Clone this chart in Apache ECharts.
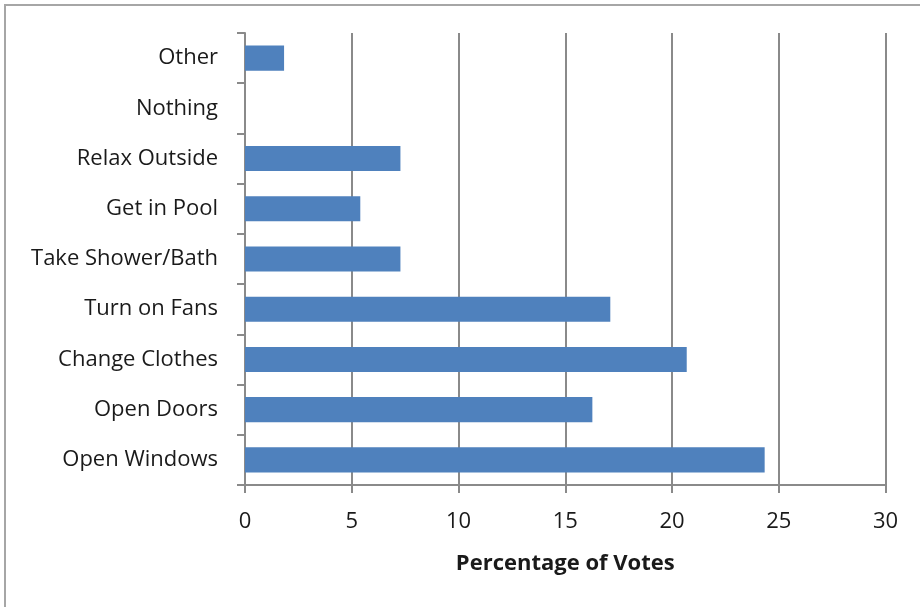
<!DOCTYPE html>
<html>
<head>
<meta charset="utf-8">
<script src="https://cdn.jsdelivr.net/npm/echarts@6/dist/echarts.min.js"></script>
<style>
  html, body { margin: 0; padding: 0; background: #fff; }
  #chart { width: 920px; height: 607px; }
</style>
</head>
<body>
<div id="chart"></div>
<script>
// Responses, listed bottom to top as the category axis draws them
const categories = ['Open Windows', 'Open Doors', 'Change Clothes', 'Turn on Fans',
  'Take Shower/Bath', 'Get in Pool', 'Relax Outside', 'Nothing', 'Other'];
// Share of votes for each response (%)
const votes = [24.34, 16.27, 20.69, 17.11, 7.28, 5.40, 7.28, 0, 1.83];
const xTicks = { min: 0, max: 30, interval: 5 };
const xTitle = 'Percentage of Votes';

const FONT = 'Open Sans';
const TEXT = '#1a1a1a';
const GRIDC = '#8a8a8a';

const chart = echarts.init(document.getElementById('chart'), null, { renderer: 'canvas' });
chart.setOption({
  animation: false,
  backgroundColor: '#ffffff',
  grid: { left: 245, right: 34.5, top: 33, bottom: 122, containLabel: false },
  graphic: [{
    type: 'rect',
    shape: { x: 5, y: 5, width: 930, height: 620 },
    style: { fill: 'none', stroke: '#a6a6a6', lineWidth: 2 },
    silent: true
  }],
  xAxis: {
    type: 'value',
    min: xTicks.min, max: xTicks.max, interval: xTicks.interval,
    name: xTitle,
    nameLocation: 'middle',
    nameGap: 68,
    nameTextStyle: { fontFamily: FONT, fontSize: 22, fontWeight: 'bold', color: TEXT },
    axisLine: { show: true, lineStyle: { color: GRIDC, width: 2 } },
    axisTick: { show: true, length: 8, lineStyle: { color: GRIDC, width: 2 } },
    axisLabel: { margin: 26, fontFamily: FONT, fontSize: 22, color: TEXT },
    splitLine: { show: true, lineStyle: { color: GRIDC, width: 2 } }
  },
  yAxis: {
    type: 'category',
    data: categories,
    boundaryGap: true,
    axisLine: { show: true, lineStyle: { color: GRIDC, width: 2 } },
    axisTick: { show: true, length: 8, alignWithLabel: false, lineStyle: { color: GRIDC, width: 2 } },
    axisLabel: { margin: 27, padding: [4, 0, 0, 0], fontFamily: FONT, fontSize: 22, color: TEXT },
    splitLine: { show: false }
  },
  series: [{
    type: 'bar',
    data: votes,
    barWidth: '50%',
    itemStyle: { color: '#4f81bd' }
  }]
});
</script>
</body>
</html>
